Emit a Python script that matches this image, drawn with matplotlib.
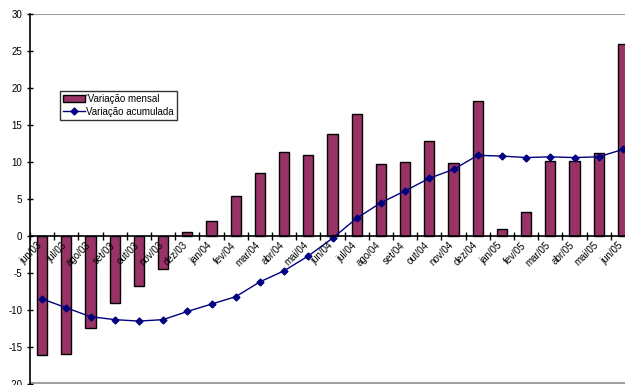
import matplotlib
matplotlib.use("Agg")
import matplotlib.pyplot as plt
import matplotlib.transforms as mtransforms
import numpy as np

meses = ["jun/03", "jul/03", "ago/03", "set/03", "out/03", "nov/03", "dez/03",
         "jan/04", "fev/04", "mar/04", "abr/04", "mai/04", "jun/04", "jul/04",
         "ago/04", "set/04", "out/04", "nov/04", "dez/04", "jan/05", "fev/05",
         "mar/05", "abr/05", "mai/05", "jun/05"]
var_mensal = [-16.1, -15.9, -12.4, -9.1, -6.7, -4.5, 0.5, 2.0, 5.4, 8.5, 11.4, 10.9,
              13.8, 16.5, 9.7, 10.0, 12.9, 9.8, 18.2, 0.9, 3.2, 10.1, 10.1, 11.2, 25.9]
var_acumulada = [-8.5, -9.7, -10.9, -11.3, -11.5, -11.3, -10.2, -9.2, -8.2, -6.2, -4.7,
                 -2.7, -0.3, 2.4, 4.5, 6.1, 7.8, 9.0, 10.9, 10.8, 10.6, 10.7, 10.6, 10.7, 11.7]
yticks = list(range(-20, 31, 5))

plt.rcParams['font.family'] = ['Liberation Sans', 'DejaVu Sans']

fig = plt.figure(figsize=(6.25, 3.85), dpi=100)
ax = fig.add_axes([30 / 625, 1 / 385, 605 / 625, 370 / 385])

x = np.arange(len(meses))
barras = ax.bar(x, var_mensal, width=0.42, color='#993366', edgecolor='black',
                linewidth=1, label="'Variação mensal", zorder=1.5)
linha, = ax.plot(x, var_acumulada, color='#000080', marker='D', markersize=3.5,
                 linewidth=1, label='Variação acumulada', zorder=2)

ax.set_xlim(-0.5, len(meses) - 0.5)
ax.set_ylim(-20, 30)
ax.set_yticks(yticks)
ax.set_yticklabels([str(t) for t in yticks], fontsize=7)
ax.tick_params(axis='y', direction='inout', length=5, width=1, pad=3)

ax.axhline(30, color='#a0a0a0', linewidth=1.5, zorder=1)
ax.axhline(-20, color='#a0a0a0', linewidth=3, zorder=1)

for s in ['top', 'right']:
    ax.spines[s].set_visible(False)
ax.spines['left'].set_linewidth(1.2)
ax.spines['bottom'].set_position(('data', 0))
ax.spines['bottom'].set_linewidth(1.2)

ax.set_xticks(x)
ax.set_xticklabels(meses, rotation=45, ha='right', va='top', rotation_mode='anchor',
                   fontsize=7)
ax.tick_params(axis='x', which='major', length=0, pad=3)
ax.set_xticks(np.arange(-0.5, len(meses)), minor=True)
ax.tick_params(axis='x', which='minor', direction='inout', length=6, width=1)
deslocamento = mtransforms.ScaledTranslation(-5 / 100, 0, fig.dpi_scale_trans)
for lbl in ax.get_xticklabels():
    lbl.set_transform(lbl.get_transform() + deslocamento)

leg = ax.legend([barras, linha], ["'Variação mensal", 'Variação acumulada'],
                loc='upper left', bbox_to_anchor=(0.05, 0.792), borderaxespad=0,
                fontsize=7, frameon=True, fancybox=False, edgecolor='black',
                handlelength=2.2, handletextpad=0.2, borderpad=0.3, labelspacing=0.3)
leg.get_frame().set_linewidth(1)
leg.set_zorder(6)

fig.savefig("out.png", dpi=100)
